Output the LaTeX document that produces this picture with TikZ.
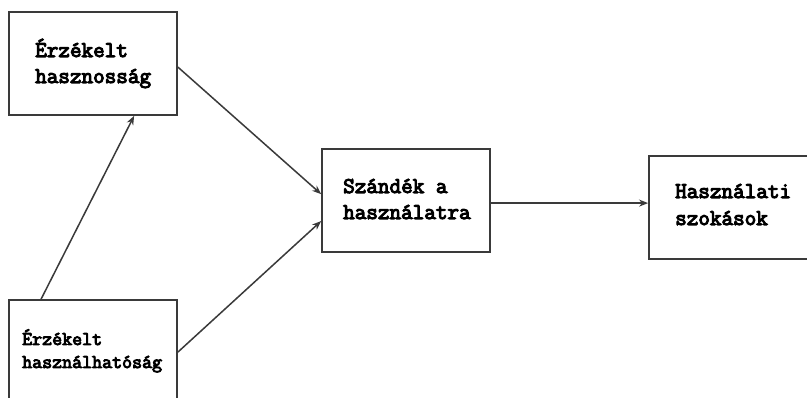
\documentclass[tikz,border=0pt]{standalone}
\usepackage{fontspec}
\newfontfamily\slabfont[FakeBold=4.5]{Latin Modern Mono}
\usetikzlibrary{arrows.meta,calc}
\definecolor{linecol}{HTML}{3A3A3A}
\tikzset{
  boxnode/.style={draw=linecol, line width=1.8pt, fill=white, rectangle, inner sep=0pt},
  txt/.style={anchor=base west, inner sep=0pt, font=\slabfont\fontsize{22.5}{26}\selectfont, text=black},
  smalltxt/.style={anchor=base west, inner sep=0pt, font=\slabfont\fontsize{19.4}{23}\selectfont, text=black},
  conn/.style={draw=linecol, line width=1.5pt, -{Stealth[length=9pt,width=7pt]}}
}
\begin{document}
\begin{tikzpicture}[x=1pt,y=-1pt]
\useasboundingbox (0,0) rectangle (807,398);
\clip (0,0) rectangle (807,398);
\fill[white] (0,0) rectangle (807,398);
% boxes
\node[boxnode, minimum width=168pt, minimum height=103pt] (b1) at (93,63.5) {};
\node[boxnode, minimum width=168pt, minimum height=130pt] (b2) at (93,365) {};
\node[boxnode, minimum width=168pt, minimum height=103pt] (b3) at (406,200.5) {};
\node[boxnode, minimum width=200pt, minimum height=103pt] (b4) at (749,207.5) {};
% texts
\node[txt] (t1a) at (35,57) {Érzékelt};
\node[txt] (t1b) at (35,83) {hasznosság};
\node[smalltxt] (t2a) at (22,345) {Érzékelt};
\node[smalltxt] (t2b) at (22,368) {használhatóság};
\node[txt] (t3a) at (343,193) {Szándék a};
\node[txt] (t3b) at (343,219) {használatra};
\node[txt] (t4a) at (675,198) {Használati};
\node[txt] (t4b) at (675,225) {szokások};
% connectors
\coordinate (s1) at ($(b1.north east)+(0,56)$);
\coordinate (e1) at ($(b3.north west)+(0,46)$);
\coordinate (s2) at ($(b2.north east)+(0,53)$);
\coordinate (e2) at ($(b3.north west)+(0,73)$);
\coordinate (s3) at ($(b2.north west)+(33,0)$);
\coordinate (e3) at ($(b1.south west)+(126,0)$);
\coordinate (s4) at ($(b3.north east)+(0,55)$);
\coordinate (e4) at ($(b4.north west)+(0,48)$);
\draw[conn] (s1) -- (e1);
\draw[conn] (s2) -- (e2);
\draw[conn] (s3) -- (e3);
\draw[conn] (s4) -- (e4);
\end{tikzpicture}
\end{document}
